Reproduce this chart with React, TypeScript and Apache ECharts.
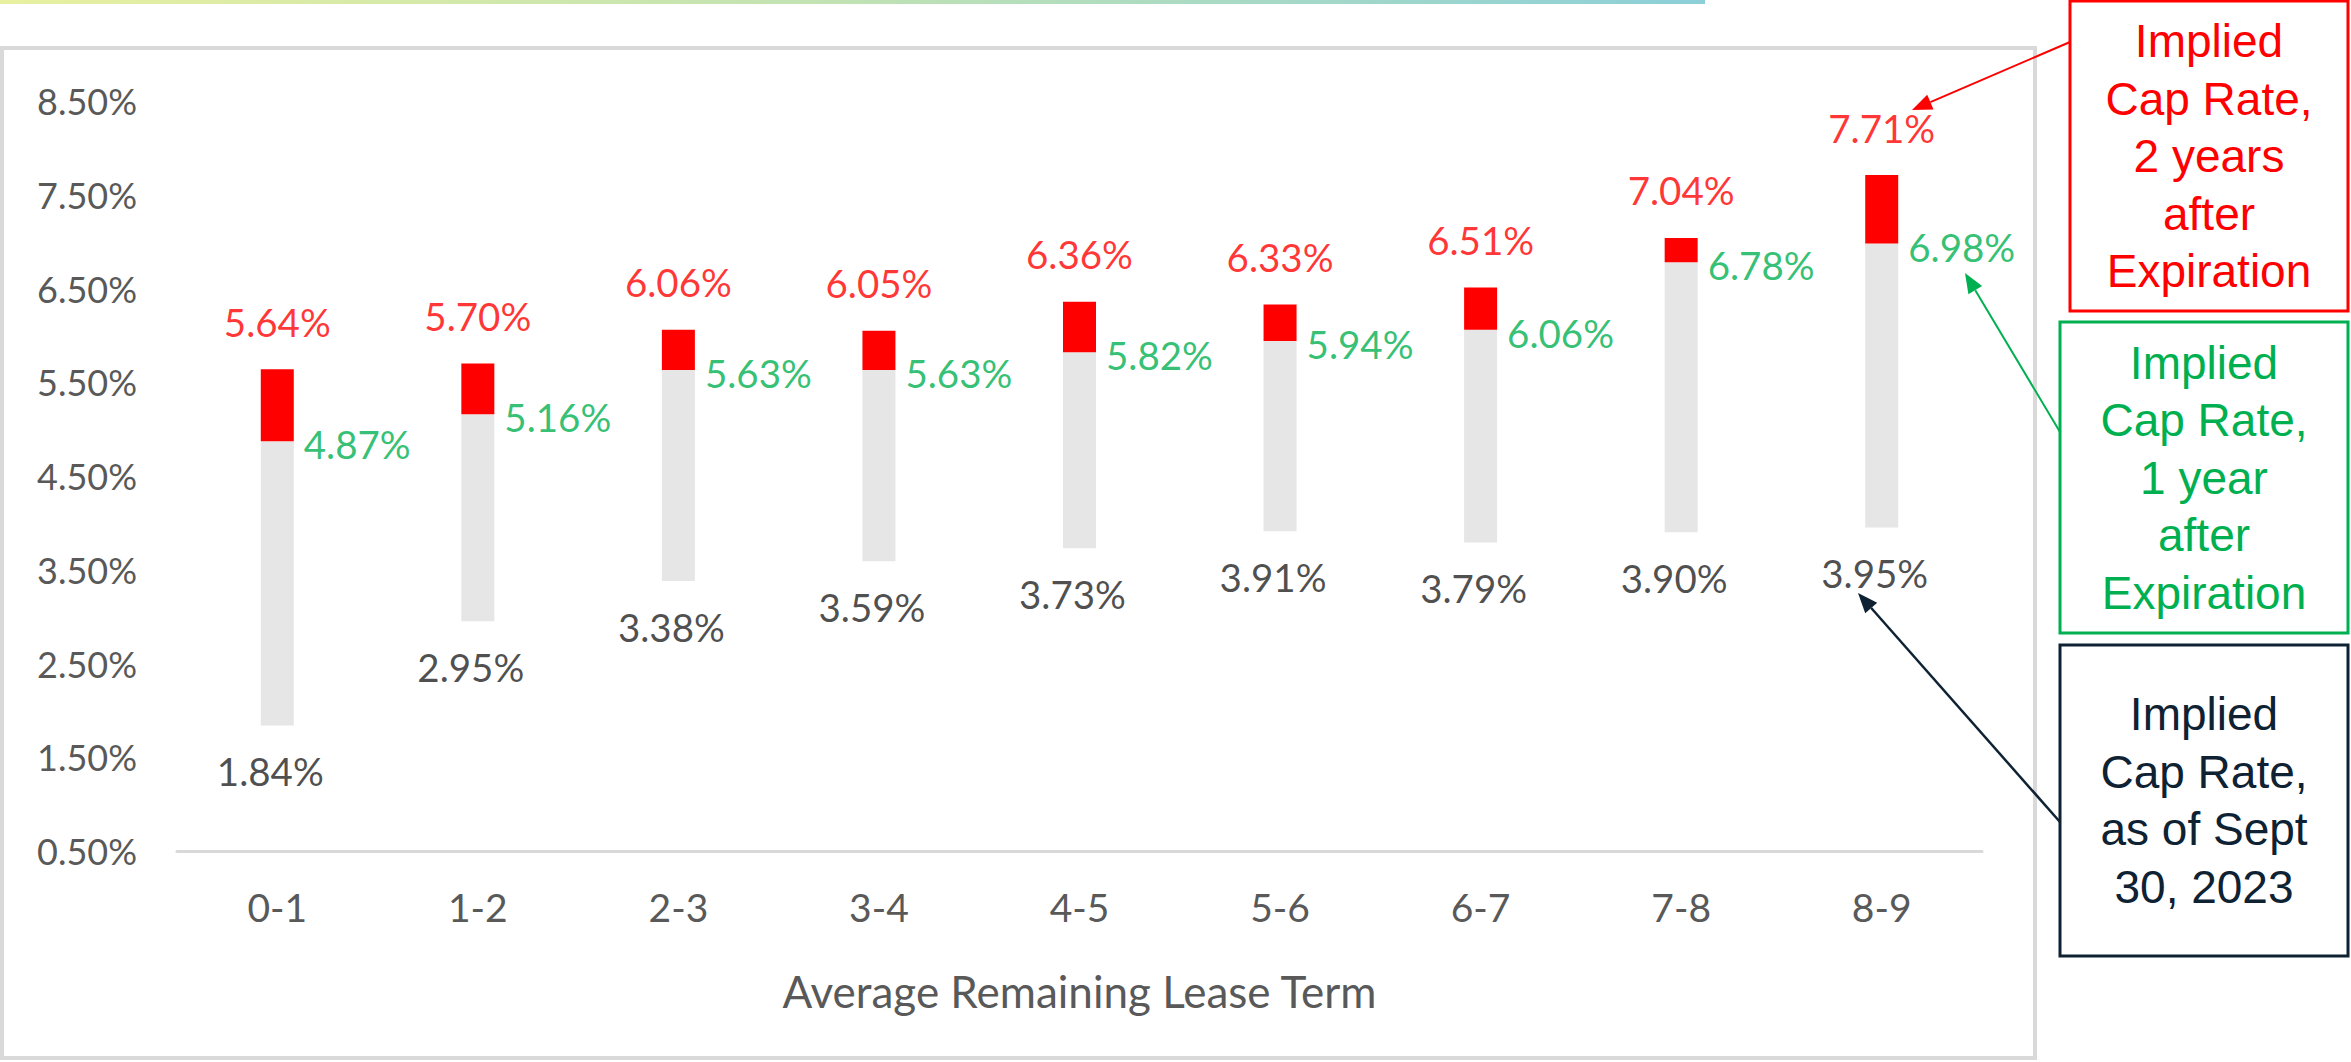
import React, { useEffect, useRef } from "react";
import * as echarts from "echarts";

const categories = ["0-1", "1-2", "2-3", "3-4", "4-5", "5-6", "6-7", "7-8", "8-9"];
const asOfSept = [1.84, 2.95, 3.38, 3.59, 3.73, 3.91, 3.79, 3.9, 3.95];
const oneYearAfter = [4.87, 5.16, 5.63, 5.63, 5.82, 5.94, 6.06, 6.78, 6.98];
const twoYearsAfter = [5.64, 5.7, 6.06, 6.05, 6.36, 6.33, 6.51, 7.04, 7.71];
const axisTitle = "Average Remaining Lease Term";

const CHART_FONT = "Lato";
const BOX_FONT = '"Liberation Sans", Arial, sans-serif';
const RED = "#ff0000";
const GREEN = "#00b050";
const DARK = "#0e2233";

function arrow(x1: number, y1: number, x2: number, y2: number, color: string, width: number) {
  const dx = x2 - x1;
  const dy = y2 - y1;
  const len = Math.sqrt(dx * dx + dy * dy);
  const ux = dx / len;
  const uy = dy / len;
  const headLen = 20;
  const headHalf = 8;
  const bx = x2 - ux * headLen;
  const by = y2 - uy * headLen;
  const nx = -uy;
  const ny = ux;
  return [
    {
      type: "line",
      shape: { x1, y1, x2: bx, y2: by },
      style: { stroke: color, lineWidth: width },
      silent: true,
    },
    {
      type: "polygon",
      shape: {
        points: [
          [x2, y2],
          [bx + nx * headHalf, by + ny * headHalf],
          [bx - nx * headHalf, by - ny * headHalf],
        ],
      },
      style: { fill: color },
      silent: true,
    },
  ];
}

function box(x: number, y: number, w: number, h: number, color: string, text: string) {
  return [
    {
      type: "rect",
      shape: { x, y, width: w, height: h },
      style: { fill: "#ffffff", stroke: color, lineWidth: 3 },
      silent: true,
    },
    {
      type: "text",
      x: x + w / 2,
      y: y + h / 2,
      style: {
        text,
        fill: color,
        font: `46px ${BOX_FONT}`,
        lineHeight: 57.5,
        align: "center",
        verticalAlign: "middle",
      },
      silent: true,
    },
  ];
}

export default function App() {
  const ref = useRef<HTMLDivElement>(null);

  useEffect(() => {
    document.body.style.margin = "0";
    if (!ref.current) return;
    const chart = echarts.init(ref.current, undefined, { renderer: "svg" });

    const grayPart = oneYearAfter.map((v, i) => +(v - asOfSept[i]).toFixed(4));
    const redPart = twoYearsAfter.map((v, i) => +(v - oneYearAfter[i]).toFixed(4));
    const pct = (p: any) => Number(p.value).toFixed(2) + "%";

    const labelBase = {
      show: true,
      fontFamily: CHART_FONT,
      fontSize: 38.5,
      lineHeight: 40,
      formatter: pct,
    };

    const option: any = {
      animation: false,
      backgroundColor: "#ffffff",
      grid: { left: 177, right: 369, top: 101, bottom: 211, containLabel: false },
      xAxis: {
        type: "category",
        data: categories,
        boundaryGap: true,
        axisTick: { show: false },
        axisLine: { show: true, lineStyle: { color: "#d9d9d9", width: 3 } },
        axisLabel: {
          color: "#595959",
          fontFamily: CHART_FONT,
          fontSize: 39,
          lineHeight: 40,
          margin: 36,
        },
        name: axisTitle,
        nameLocation: "middle",
        nameGap: 117,
        nameTextStyle: { color: "#595959", fontFamily: CHART_FONT, fontSize: 44, lineHeight: 46 },
      },
      yAxis: {
        type: "value",
        min: 0.5,
        max: 8.5,
        interval: 0.5,
        axisLine: { show: false },
        axisTick: { show: false },
        splitLine: { show: false },
        axisLabel: {
          color: "#595959",
          fontFamily: CHART_FONT,
          fontSize: 36,
          margin: 40,
          formatter: (v: number) => {
            const r = Math.round(v * 2);
            return r % 2 === 1 ? v.toFixed(2) + "%" : "";
          },
        },
      },
      series: [
        {
          type: "bar",
          stack: "rate",
          barWidth: 33,
          data: asOfSept,
          itemStyle: { color: "rgba(0,0,0,0)" },
          silent: true,
        },
        {
          type: "bar",
          stack: "rate",
          barWidth: 33,
          data: grayPart,
          itemStyle: { color: "#e6e6e6" },
          silent: true,
        },
        {
          type: "bar",
          stack: "rate",
          barWidth: 33,
          data: redPart,
          itemStyle: { color: RED },
          silent: true,
        },
        {
          type: "scatter",
          data: twoYearsAfter,
          symbolSize: 1,
          itemStyle: { color: "rgba(0,0,0,0)" },
          silent: true,
          label: { ...labelBase, color: RED, position: "top", distance: 27 },
        },
        {
          type: "scatter",
          data: oneYearAfter,
          symbolSize: 1,
          itemStyle: { color: "rgba(0,0,0,0)" },
          silent: true,
          label: { ...labelBase, color: GREEN, position: "right", distance: 26, offset: [0, 3] },
        },
        {
          type: "scatter",
          data: asOfSept,
          symbolSize: 1,
          itemStyle: { color: "rgba(0,0,0,0)" },
          silent: true,
          label: { ...labelBase, color: "#1f1f1f", position: "bottom", distance: 25, offset: [-7, 0] },
        },
      ],
      graphic: [
        {
          type: "rect",
          shape: { x: 0, y: 0, width: 1705, height: 4 },
          style: {
            fill: new echarts.graphic.LinearGradient(0, 0, 1, 0, [
              { offset: 0, color: "#e8f0a0" },
              { offset: 0.5, color: "#c0e2b4" },
              { offset: 1, color: "#8ccfd9" },
            ]),
          },
          silent: true,
        },
        {
          type: "rect",
          shape: { x: 2, y: 48, width: 2033, height: 1010 },
          style: { fill: "none", stroke: "#d9d9d9", lineWidth: 4 },
          silent: true,
        },
        ...box(2070, 1, 278, 310, RED, "Implied\nCap Rate,\n2 years\nafter\nExpiration"),
        ...box(2060, 322, 288, 311, GREEN, "Implied\nCap Rate,\n1 year\nafter\nExpiration"),
        ...box(2060, 645, 288, 311, DARK, "Implied\nCap Rate,\nas of Sept\n30, 2023"),
        ...arrow(2070, 42, 1912, 110, RED, 2),
        ...arrow(2060, 432, 1965, 273, GREEN, 2),
        ...arrow(2060, 822, 1858, 593, DARK, 2.5),
      ],
    };

    chart.setOption(option);
    return () => chart.dispose();
  }, []);

  return <div ref={ref} style={{ width: 2351, height: 1062 }} />;
}
